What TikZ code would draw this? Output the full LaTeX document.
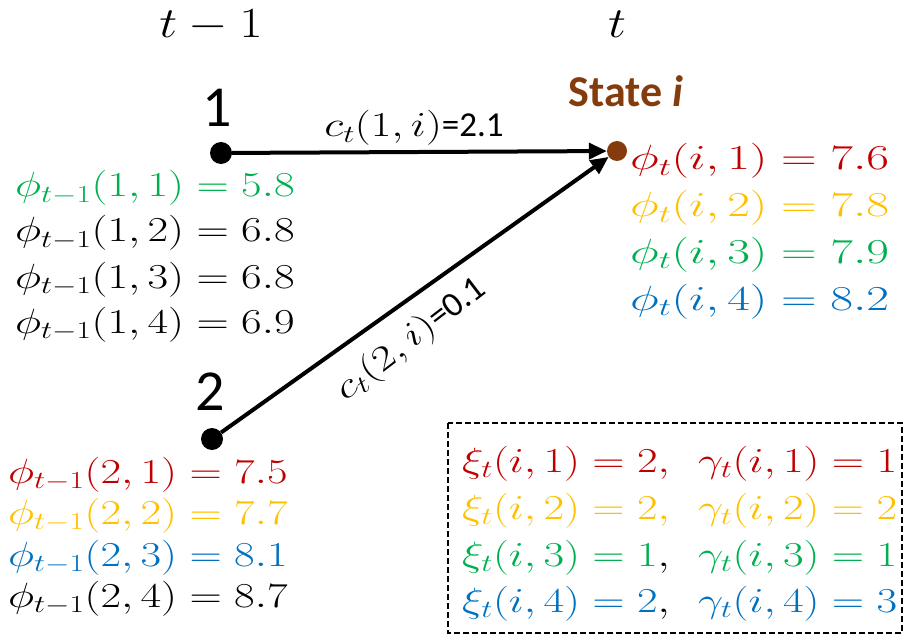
\RequirePackage{fix-cm}
\documentclass[tikz,border=0pt]{standalone}
\usepackage{graphicx}
\usepackage{fontspec}
\setmainfont{Carlito}
\usetikzlibrary{arrows.meta}
\definecolor{cred}{HTML}{C00000}
\definecolor{cyel}{HTML}{FFC000}
\definecolor{cgrn}{HTML}{00B050}
\definecolor{cblu}{HTML}{0070C0}
\definecolor{cbrn}{HTML}{843C0C}
\newcommand\wide[2][1.28]{\scalebox{#1}[1]{#2}}
\begin{document}
\begin{tikzpicture}[x=1pt,y=-1pt,
  eq/.style={anchor=base west, inner sep=0pt, font=\fontsize{35}{40}\selectfont},
  lab/.style={anchor=base, inner sep=0pt},
  dotnode/.style={circle, fill=black, inner sep=0pt, minimum size=22pt},
  arr/.style={line width=4pt, -{Triangle[length=18pt,width=16pt]}}]
\useasboundingbox (0,0) rectangle (904,636);
% time headers
\node[lab, font=\fontsize{43}{46}\selectfont] (tm1) at (211,38) {\wide[1.18]{$t-1$}};
\node[lab, font=\fontsize{43}{46}\selectfont] (tt) at (617,38) {\wide[1.18]{$t$}};
% states
\node[dotnode] (n1) at (221,153) {};
\node[dotnode] (n2) at (212,439) {};
\node[dotnode, fill=cbrn, minimum size=20pt] (si) at (617,151) {};
\node[lab, font=\fontsize{58}{60}\selectfont] (l1) at (217,127) {1};
\node[lab, font=\fontsize{58}{60}\selectfont] (l2) at (210,410) {2};
\node[lab, font=\fontsize{44}{46}\selectfont\bfseries, text=cbrn] (lsi) at (626,107) {State \textit{i}};
% arrows
\draw[arr] (n1) -- (si);
\draw[arr] (n2) -- (si);
\node[lab, font=\fontsize{35}{37}\selectfont] (c1) at (414,137) {\wide{$c_t(1,i)$}=2.1};
\node[inner sep=0pt, rotate=37.5, font=\fontsize{35}{37}\selectfont] (c2) at (411,340) {\wide{$c_t(2,i)$}=0.1};
% left top
\node[eq, text=cgrn] (a1) at (15,197) {\wide{$\phi_{t-1}(1,1) = 5.8$}};
\node[eq] (a2) at (15,242) {\wide{$\phi_{t-1}(1,2) = 6.8$}};
\node[eq] (a3) at (15,288) {\wide{$\phi_{t-1}(1,3) = 6.8$}};
\node[eq] (a4) at (15,333) {\wide{$\phi_{t-1}(1,4) = 6.9$}};
% left bottom
\node[eq, text=cred] (b1) at (8,483) {\wide{$\phi_{t-1}(2,1) = 7.5$}};
\node[eq, text=cyel] (b2) at (8,524) {\wide{$\phi_{t-1}(2,2) = 7.7$}};
\node[eq, text=cblu] (b3) at (8,566) {\wide{$\phi_{t-1}(2,3) = 8.1$}};
\node[eq] (b4) at (8,607) {\wide{$\phi_{t-1}(2,4) = 8.7$}};
% right
\node[eq, text=cred] (r1) at (630,170) {\wide[1.41]{$\phi_{t}(i,1) = 7.6$}};
\node[eq, text=cyel] (r2) at (630,217) {\wide[1.41]{$\phi_{t}(i,2) = 7.8$}};
\node[eq, text=cgrn] (r3) at (630,263) {\wide[1.41]{$\phi_{t}(i,3) = 7.9$}};
\node[eq, text=cblu] (r4) at (630,310) {\wide[1.41]{$\phi_{t}(i,4) = 8.2$}};
% box
\draw[dash pattern=on 6pt off 3pt, line width=2pt] (448,423) rectangle (902,633);
\node[eq, text=cred] (x1) at (462,472) {\wide{$\xi_t(i,1) = 2,$}};
\node[eq, text=cyel] (x2) at (462,519) {\wide{$\xi_t(i,2) = 2,$}};
\node[eq, text=cgrn] (x3) at (462,566) {\wide{$\xi_t(i,3) = 1$\textcolor{black}{$,$}}};
\node[eq, text=cblu] (x4) at (462,612) {\wide{$\xi_t(i,4) = 2$\textcolor{black}{$,$}}};
\node[eq, text=cred] (g1) at (698,472) {\wide{$\gamma_t(i,1) = 1$}};
\node[eq, text=cyel] (g2) at (698,519) {\wide{$\gamma_t(i,2) = 2$}};
\node[eq, text=cgrn] (g3) at (698,566) {\wide{$\gamma_t(i,3) = 1$}};
\node[eq, text=cblu] (g4) at (698,612) {\wide{$\gamma_t(i,4) = 3$}};
\end{tikzpicture}
\end{document}
